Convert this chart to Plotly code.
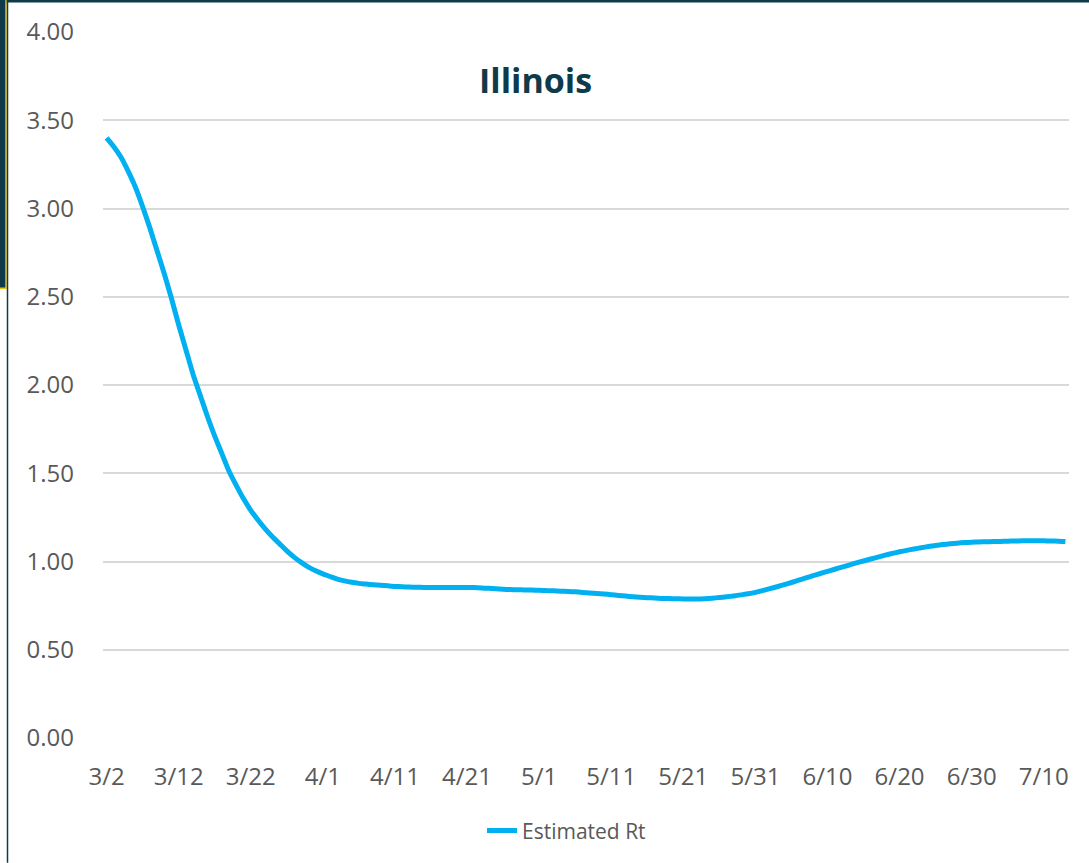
"""
Illinois — Estimated Rt line chart.
"""

from __future__ import annotations

import pandas as pd
import plotly.graph_objects as go

START_DATE = "2020-03-02"
SERIES_NAME = "Estimated Rt"
TITLE = "Illinois"

# daily estimated Rt, 3/2 .. 7/13
rt_values = [
    3.40, 3.35, 3.29, 3.21, 3.12, 3.01, 2.89, 2.76, 2.63, 2.49,
    2.34, 2.20, 2.06, 1.94, 1.82, 1.71, 1.61, 1.51, 1.43, 1.355,
    1.29, 1.235, 1.185, 1.14, 1.10, 1.06, 1.025, 0.995, 0.968, 0.947,
    0.93, 0.915, 0.90, 0.89, 0.882, 0.876, 0.872, 0.868, 0.865, 0.862,
    0.859, 0.857, 0.855, 0.854, 0.853, 0.853, 0.853, 0.853, 0.853, 0.853,
    0.853, 0.852, 0.850, 0.848, 0.846, 0.843, 0.841, 0.840, 0.839, 0.838,
    0.837, 0.835, 0.834, 0.832, 0.830, 0.828, 0.825, 0.822, 0.819, 0.816,
    0.812, 0.808, 0.804, 0.800, 0.797, 0.795, 0.793, 0.791, 0.790, 0.789,
    0.788, 0.787, 0.787, 0.789, 0.792, 0.796, 0.800, 0.805, 0.811, 0.817,
    0.825, 0.835, 0.846, 0.857, 0.869, 0.881, 0.894, 0.907, 0.920, 0.932,
    0.944, 0.956, 0.968, 0.980, 0.992, 1.003, 1.014, 1.025, 1.036, 1.046,
    1.055, 1.063, 1.071, 1.078, 1.085, 1.091, 1.096, 1.100, 1.104, 1.107,
    1.109, 1.111, 1.112, 1.113, 1.114, 1.115, 1.116, 1.117, 1.118, 1.118,
    1.117, 1.116, 1.115, 1.113,
]
dates = pd.date_range(START_DATE, periods=len(rt_values), freq="D")

y_ticks = [0, 0.5, 1.0, 1.5, 2.0, 2.5, 3.0, 3.5, 4.0]

W, H = 1089, 863
L, R, T, B = 103, 20, 32, 123
PW, PH = W - L - R, H - T - B

DARK = "#0F3A4A"
GRAY = "#595959"
FONT = "Open Sans, Liberation Sans, sans-serif"


def px_x(p):
    return (p - L) / PW


def px_y(p):
    return (H - B - p) / PH


fig = go.Figure()
fig.add_trace(
    go.Scatter(
        x=dates,
        y=rt_values,
        mode="lines",
        name=SERIES_NAME,
        line=dict(color="#00B0F0", width=5, shape="spline", smoothing=0.6),
    )
)

# window frame remnants of the screenshot
shapes = [
    dict(type="rect", xref="paper", yref="paper",
         x0=px_x(-2), x1=px_x(W + 2), y0=px_y(2.5), y1=px_y(-2),
         fillcolor=DARK, line_width=0, layer="above"),
    dict(type="rect", xref="paper", yref="paper",
         x0=px_x(-2), x1=px_x(6), y0=px_y(289), y1=px_y(-2),
         fillcolor=DARK, line=dict(color="#F2C200", width=1.5), layer="above"),
    dict(type="line", xref="paper", yref="paper",
         x0=px_x(7.5), x1=px_x(7.5), y0=px_y(H + 2), y1=px_y(0),
         line=dict(color=DARK, width=1.5), layer="above"),
]

fig.update_layout(
    width=W,
    height=H,
    margin=dict(l=L, r=R, t=T, b=B),
    paper_bgcolor="white",
    plot_bgcolor="white",
    font=dict(family=FONT, color=GRAY),
    shapes=shapes,
    annotations=[
        dict(text=f"<b>{TITLE}</b>", xref="paper", yref="paper",
             x=px_x(535), y=px_y(80), xanchor="center", yanchor="middle",
             showarrow=False, font=dict(size=34, color=DARK, family=FONT)),
    ],
    showlegend=True,
    legend=dict(
        orientation="h",
        x=px_x(482), xanchor="left",
        y=px_y(833), yanchor="middle",
        font=dict(size=21, color=GRAY),
        bgcolor="rgba(0,0,0,0)",
    ),
    xaxis=dict(
        type="date",
        range=[dates[0] - pd.Timedelta(hours=12), dates[-1] + pd.Timedelta(hours=12)],
        tick0=START_DATE,
        dtick=10 * 24 * 3600 * 1000,
        tickformat="%-m/%-d",
        showgrid=False,
        zeroline=False,
        showline=False,
        ticks="",
        ticklabelstandoff=22,
        tickfont=dict(size=24, color=GRAY),
    ),
    yaxis=dict(
        range=[0, 4.0],
        tickvals=y_ticks,
        tickformat=".2f",
        showgrid=True,
        gridcolor="#D9D9D9",
        gridwidth=1.5,
        zeroline=False,
        showline=False,
        ticks="",
        ticklabelstandoff=28,
        tickfont=dict(size=24, color=GRAY),
    ),
)

# the page's default body margin would push the chart 8px off; drop it
fig.write_html(
    "out.html",
    config={"displayModeBar": False},
    post_script="document.body.style.margin='0';",
)
